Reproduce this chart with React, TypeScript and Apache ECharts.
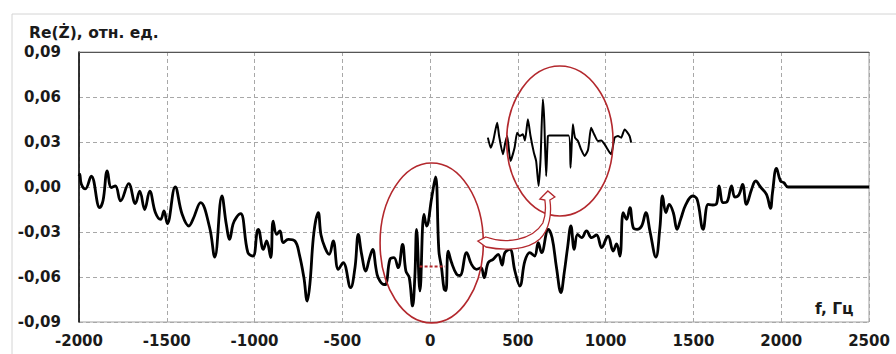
import { useEffect, useRef } from "react";
import * as echarts from "echarts";

// Real part of the impedance spectrum, f in Hz
const freq = [
  -2000, -1996, -1987, -1964, -1930, -1882, -1863, -1839, -1816, -1793, -1763, -1717, -1679, -1654,
  -1626, -1597, -1565, -1535, -1516, -1497, -1452, -1413, -1374, -1351, -1307, -1256, -1227, -1186,
  -1161, -1142, -1123, -1104, -1079, -1038, -1009, -985, -979, -950, -931, -908, -894, -874, -855,
  -837, -808, -770, -745, -719, -700, -685, -662, -637, -622, -599, -575, -552, -523, -495, -453,
  -428, -409, -390, -366, -347, -327, -309, -296, -263, -252, -229, -206, -182, -157, -138, -119,
  -100, -87, -77, -58, -35, -20, 9, 31, 50, 65, 80, 90, 103, 122, 151, 170, 208, 236, 265, 290, 308,
  331, 359, 388, 410, 426, 454, 483, 511, 540, 568, 595, 616, 635, 673, 695, 720, 745, 764, 783, 802,
  821, 840, 863, 891, 920, 948, 977, 1005, 1014, 1043, 1062, 1081, 1100, 1119, 1138, 1157, 1179, 1205,
  1229, 1252, 1286, 1309, 1324, 1343, 1362, 1385, 1407, 1427, 1457, 1495, 1521, 1555, 1584, 1610,
  1632, 1646, 1669, 1690, 1717, 1736, 1760, 1780, 1802, 1831, 1855, 1882, 1916, 1939, 1950, 1973,
  1996, 2015, 2039, 2500,
];
const reZ = [
  0.0073, 0.0085, 0.002, -0.0013, 0.0073, -0.0138, -0.009, 0.0107, -0.0004, 0.0007, -0.0093, 0.0022,
  -0.011, -0.0027, -0.015, -0.0027, -0.017, -0.0216, -0.016, -0.0244, 0.0, -0.018, -0.026, -0.0216,
  -0.0104, -0.027, -0.0467, -0.006, -0.0249, -0.0349, -0.0249, -0.0204, -0.0178, -0.0438, -0.046,
  -0.0293, -0.0282, -0.0416, -0.036, -0.047, -0.0227, -0.0316, -0.0293, -0.0371, -0.0349, -0.036,
  -0.0449, -0.0604, -0.076, -0.0649, -0.0304, -0.0171, -0.0316, -0.0404, -0.0449, -0.036, -0.0549,
  -0.0504, -0.0671, -0.0538, -0.0316, -0.0449, -0.056, -0.0482, -0.0416, -0.0538, -0.0604, -0.065,
  -0.0649, -0.0482, -0.0471, -0.0538, -0.0382, -0.056, -0.0604, -0.0793, -0.06, -0.0282, -0.0693,
  -0.0182, -0.026, -0.0071, 0.0067, -0.0427, -0.0538, -0.0682, -0.069, -0.0427, -0.0504, -0.0582,
  -0.059, -0.0438, -0.0516, -0.0549, -0.0538, -0.0604, -0.0504, -0.0482, -0.0449, -0.052, -0.0438,
  -0.0416, -0.056, -0.066, -0.0493, -0.0438, -0.046, -0.0371, -0.0438, -0.0282, -0.0338, -0.0538,
  -0.0704, -0.0571, -0.0404, -0.026, -0.0416, -0.0316, -0.0338, -0.0293, -0.0338, -0.032, -0.0404,
  -0.0338, -0.0327, -0.0427, -0.038, -0.046, -0.0171, -0.0216, -0.0138, -0.0271, -0.0282, -0.026,
  -0.0171, -0.0293, -0.0467, -0.0271, -0.006, -0.0171, -0.0116, -0.017, -0.0282, -0.0216, -0.0116,
  -0.006, -0.0082, -0.0282, -0.0116, -0.012, -0.0111, 0.0007, -0.0104, -0.01, 0.0007, -0.0067,
  -0.005, 0.0018, -0.0116, -0.0016, 0.004, 0.0, -0.0049, -0.0142, -0.004, 0.0124, 0.004, 0.0029, 0.0,
  0.0,
];

// Magnified fragment around f = 0, shifted up into free space
const insetFreq = [
  329, 345, 360, 382, 393, 415, 428, 439, 458, 481, 496, 510, 528, 540, 557, 572, 591, 604, 618, 629,
  642, 650, 661, 671, 680, 789, 800, 813, 825, 842, 860, 880, 900, 917, 935, 956, 975, 994, 1017,
  1031, 1051, 1070, 1088, 1108, 1136, 1145,
];
const insetReZ = [
  0.0329, 0.0262, 0.031, 0.0429, 0.034, 0.0218, 0.0295, 0.034, 0.0173, 0.0262, 0.0362, 0.034, 0.0351,
  0.031, 0.0451, 0.034, 0.0229, 0.0173, 0.0007, 0.0184, 0.0585, 0.045, 0.0073, 0.034, 0.0344, 0.0344,
  0.0129, 0.0418, 0.033, 0.0307, 0.0251, 0.0207, 0.025, 0.0395, 0.035, 0.0307, 0.031, 0.0284, 0.024,
  0.0218, 0.0329, 0.034, 0.0329, 0.0384, 0.034, 0.0296,
];

// Dotted marker line inside the left ellipse
const markFreq = [-60, 85];
const markReZ = [-0.053, -0.053];

const xTicks = { min: -2000, max: 2500, step: 500 };
const yTicks = { min: -0.09, max: 0.09, step: 0.03 };

// Annotation ellipses: centre and semi-axes in data units
const zoneCentre = { x: 9, y: -0.0373, rx: 294, ry: 0.0533 };
const zoneInset = { x: 739, y: 0.0307, rx: 303, ry: 0.05 };
const arrowTail = { x: 272, y: -0.036 };

const RED = "#b3282d";
const FONT = "DejaVu Sans";

// Curved outlined arrow, coordinates relative to its tail
const ARROW_D =
  "M0 0 L8 -4 C27 3 54 0 65 -18 C68 -26 68 -34 67 -41 L62 -42 L70 -50 L77 -44 L72 -41 " +
  "C74 -28 72 -12 62 -2 C50 9 27 10 8 6 Z";
echarts.graphic.registerShape("curvedArrow", echarts.graphic.extendPath(ARROW_D, {}) as any);

export default function App() {
  const ref = useRef<HTMLDivElement>(null);

  useEffect(() => {
    const chart = echarts.init(ref.current!, null, { renderer: "svg" });
    const labelStyle = { fontFamily: FONT, fontWeight: "bold" as const, fontSize: 15, color: "#1a1a1a" };
    const dashed = { show: true, lineStyle: { color: "#a8a8a8", type: [4, 3] as number[], width: 1 } };

    chart.setOption({
      animation: false,
      backgroundColor: "#ffffff",
      grid: {
        left: 79,
        top: 52,
        right: 27,
        bottom: 32,
        show: true,
        borderColor: "#a0a0a0",
        borderWidth: 1,
      },
      xAxis: [
        {
          type: "value",
          min: xTicks.min,
          max: xTicks.max,
          interval: xTicks.step,
          axisLine: { show: false },
          axisTick: { show: false },
          splitLine: dashed,
          axisLabel: { ...labelStyle, margin: 11, formatter: (v: number) => String(v) },
        },
        {
          type: "value",
          position: "top",
          min: xTicks.min,
          max: xTicks.max,
          axisLine: { show: true, onZero: false, lineStyle: { color: "#555", width: 1.2 } },
          axisTick: { show: false },
          axisLabel: { show: false },
          splitLine: { show: false },
        },
      ],
      yAxis: {
        type: "value",
        min: yTicks.min,
        max: yTicks.max,
        interval: yTicks.step,
        axisLine: { show: true, onZero: false, lineStyle: { color: "#000", width: 1.5 } },
        axisTick: { show: false },
        splitLine: dashed,
        axisLabel: {
          ...labelStyle,
          margin: 18,
          formatter: (v: number) => v.toFixed(2).replace(".", ","),
        },
      },
      series: [
        {
          type: "line",
          data: freq.map((f, i) => [f, reZ[i]]),
          symbol: "none",
          smooth: 0.4,
          lineStyle: { color: "#000", width: 2.8 },
          z: 3,
        },
        {
          type: "line",
          data: insetFreq.map((f, i) => [f, insetReZ[i]]),
          symbol: "none",
          smooth: 0.2,
          lineStyle: { color: "#000", width: 2 },
          z: 3,
        },
        {
          type: "line",
          data: markFreq.map((f, i) => [f, markReZ[i]]),
          symbol: "none",
          lineStyle: { color: RED, width: 2, type: [3, 2] },
          z: 4,
        },
      ],
    });

    const px = (x: number, y: number) => chart.convertToPixel({ gridIndex: 0 }, [x, y]) as number[];
    const ellipse = (e: { x: number; y: number; rx: number; ry: number }) => {
      const [cx, cy] = px(e.x, e.y);
      const [ex] = px(e.x + e.rx, e.y);
      const [, ey] = px(e.x, e.y + e.ry);
      return {
        type: "ellipse",
        shape: { cx, cy, rx: Math.abs(ex - cx), ry: Math.abs(cy - ey) },
        style: { fill: "none", stroke: RED, lineWidth: 1.6 },
        z: 10,
      };
    };
    const [ax, ay] = px(arrowTail.x, arrowTail.y);

    chart.setOption({
      title: {
        text: "Re(Ż), отн. ед.",
        left: 24,
        top: 20,
        textStyle: { fontFamily: FONT, fontWeight: "bold", fontSize: 15.5, color: "#1a1a1a" },
      },
      graphic: [
        {
          type: "rect",
          shape: { x: 12, y: 14, width: 1000, height: 1000 },
          style: { fill: "none", stroke: "#d4d4d4", lineWidth: 1 },
          silent: true,
          z: 0,
        },
        {
          type: "text",
          left: 815,
          top: 301,
          style: { text: "f, Гц", font: `bold 15.5px "${FONT}"`, fill: "#1a1a1a" },
          z: 10,
        },
        ellipse(zoneCentre),
        ellipse(zoneInset),
        {
          type: "curvedArrow",
          x: ax,
          y: ay,
          style: { fill: "#ffffff", stroke: RED, lineWidth: 1.3 },
          z: 11,
        },
      ],
    });

    return () => chart.dispose();
  }, []);

  return (
    <div
      ref={ref}
      style={{ position: "fixed", left: 0, top: 0, width: 896, height: 354 }}
    />
  );
}
